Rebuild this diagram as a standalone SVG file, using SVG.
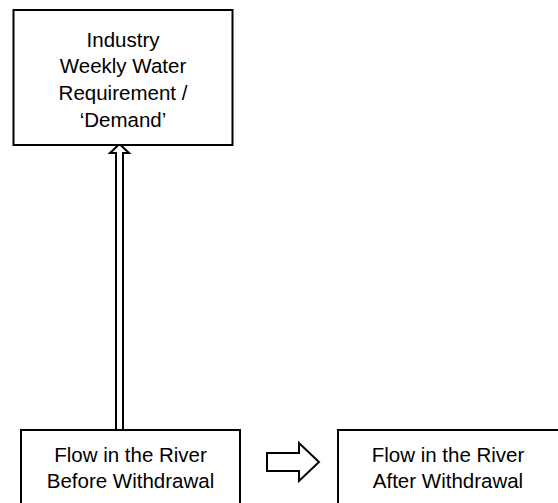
<svg xmlns="http://www.w3.org/2000/svg" width="558" height="503" viewBox="0 0 558 503">
<style>
.box{fill:#fff;stroke:#000;stroke-width:2}
.arr{fill:#fff;stroke:#000;stroke-width:2;stroke-linejoin:miter}
text{font-family:"Liberation Sans",Arial,sans-serif;font-size:20.5px;fill:#000;text-anchor:middle}
</style>
<rect width="558" height="503" fill="#fff"/>
<g id="connectors">
<path class="arr" d="M116,430 L116,153 L110,153 L119.5,144 L129,153 L123,153 L123,430"/>
<path class="arr" d="M267,453 L299,453 L299,443 L319,462 L299,481 L299,471 L267,471 Z"/>
</g>
<g id="demand">
<rect class="box" x="13.5" y="10" width="219" height="135"/>
<text x="123" y="46.5">Industry</text>
<text x="123" y="73.2">Weekly Water</text>
<text x="123" y="100">Requirement /</text>
<text x="123" y="126.7">‘Demand’</text>
</g>
<g id="before">
<rect class="box" x="21" y="430" width="219" height="100"/>
<text x="130.5" y="461.7">Flow in the River</text>
<text x="130.5" y="488.3">Before Withdrawal</text>
</g>
<g id="after">
<rect class="box" x="338" y="430" width="224" height="100"/>
<text x="448" y="461.7">Flow in the River</text>
<text x="448" y="488.3">After Withdrawal</text>
</g>
</svg>
